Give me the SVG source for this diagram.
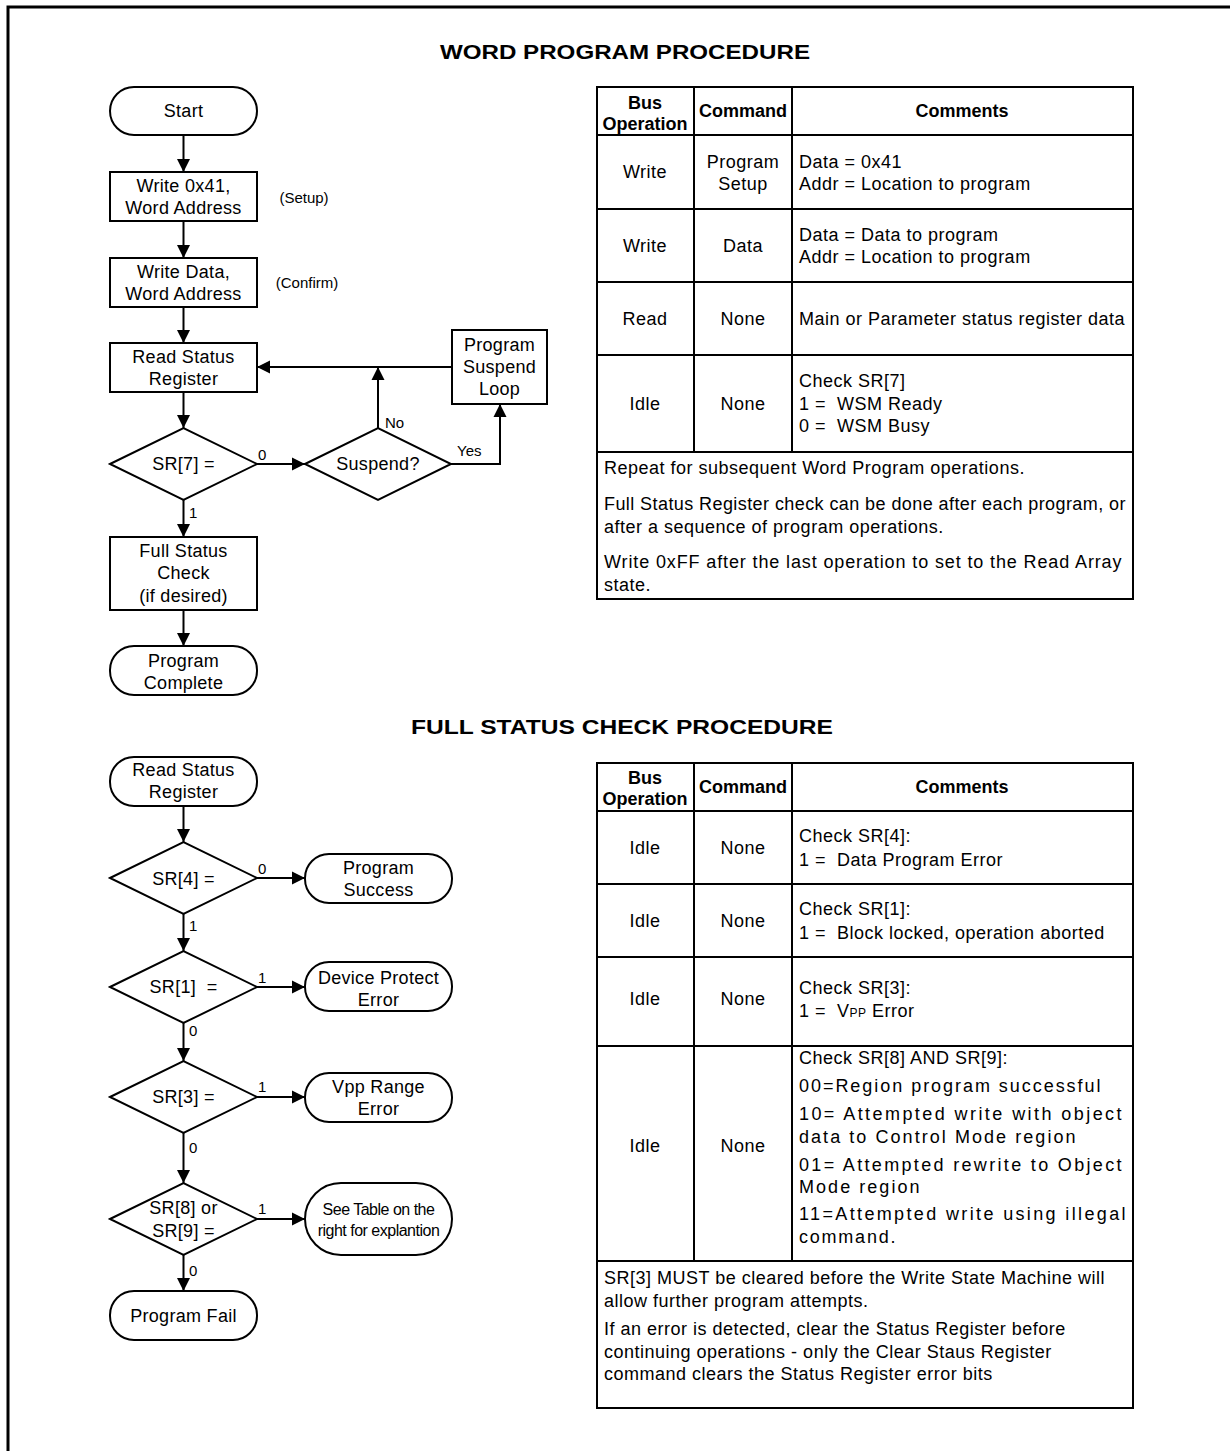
<svg xmlns="http://www.w3.org/2000/svg" width="1230" height="1451" viewBox="0 0 1230 1451">
<defs>
<marker id="arr" viewBox="0 0 10 10" refX="10" refY="5" markerWidth="13" markerHeight="14" markerUnits="userSpaceOnUse" orient="auto">
<path d="M0,0 L10,5 L0,10 z" fill="#000"/>
</marker>
<style>
text{font-family:"Liberation Sans",Arial,sans-serif;fill:#000}
.t{font-size:18px;text-anchor:middle;letter-spacing:0.3px}
.sm{font-size:15px;text-anchor:middle}
.lb{font-size:15px}
.h{font-size:21px;font-weight:bold;text-anchor:middle}
.th{font-size:18px;font-weight:bold;text-anchor:middle}
.tc{font-size:18px;text-anchor:middle;letter-spacing:0.5px}
.tl{font-size:18px;letter-spacing:0.5px}
.shape{fill:#fff;stroke:#000;stroke-width:2}
.line{fill:none;stroke:#000;stroke-width:2}
.tbl{fill:none;stroke:#000;stroke-width:2}
</style>
</defs>
<rect width="1230" height="1451" fill="#fff"/>
<path d="M8,1451 V7 H1230" fill="none" stroke="#000" stroke-width="3"/>

<text class="h" x="625" y="59" textLength="370" lengthAdjust="spacingAndGlyphs">WORD PROGRAM PROCEDURE</text>
<text class="h" x="622" y="734" textLength="422" lengthAdjust="spacingAndGlyphs">FULL STATUS CHECK PROCEDURE</text>

<!-- Word program flowchart -->
<g id="start"><rect class="shape" x="110" y="87" width="147" height="48" rx="24"/><text class="t" x="183.5" y="117">Start</text></g>
<g id="write41"><rect class="shape" x="110" y="172" width="147" height="49"/><text class="t" x="183.5" y="192">Write 0x41,</text><text class="t" x="183.5" y="214">Word Address</text></g>
<g id="setup-note"><text class="sm" x="304" y="203">(Setup)</text></g>
<g id="writedata"><rect class="shape" x="110" y="258" width="147" height="49"/><text class="t" x="183.5" y="278">Write Data,</text><text class="t" x="183.5" y="300">Word Address</text></g>
<g id="confirm-note"><text class="sm" x="307" y="288">(Confirm)</text></g>
<g id="readsr"><rect class="shape" x="110" y="343" width="147" height="49"/><text class="t" x="183.5" y="363">Read Status</text><text class="t" x="183.5" y="385">Register</text></g>
<g id="sr7"><polygon class="shape" points="110,464 183.5,428 257,464 183.5,500"/><text class="t" x="183.5" y="470">SR[7] =</text></g>
<g id="suspend"><polygon class="shape" points="305,464 378,428 451,464 378,500"/><text class="t" x="378" y="470">Suspend?</text></g>
<g id="suspendloop"><rect class="shape" x="452" y="330" width="95" height="74"/><text class="t" x="499.5" y="351">Program</text><text class="t" x="499.5" y="373">Suspend</text><text class="t" x="499.5" y="395">Loop</text></g>
<g id="fullcheck"><rect class="shape" x="110" y="537" width="147" height="73"/><text class="t" x="183.5" y="557">Full Status</text><text class="t" x="183.5" y="579">Check</text><text class="t" x="183.5" y="602">(if desired)</text></g>
<g id="complete"><rect class="shape" x="110" y="646" width="147" height="49" rx="24"/><text class="t" x="183.5" y="667">Program</text><text class="t" x="183.5" y="689">Complete</text></g>

<!-- Full status check flowchart -->
<g id="readsr2"><rect class="shape" x="110" y="757" width="147" height="49" rx="24"/><text class="t" x="183.5" y="776">Read Status</text><text class="t" x="183.5" y="798">Register</text></g>
<g id="sr4"><polygon class="shape" points="110,878 183.5,842 257,878 183.5,914"/><text class="t" x="183.5" y="885">SR[4] =</text></g>
<g id="success"><rect class="shape" x="305" y="854" width="147" height="49" rx="24"/><text class="t" x="378.5" y="874">Program</text><text class="t" x="378.5" y="896">Success</text></g>
<g id="sr1"><polygon class="shape" points="110,987 183.5,951 257,987 183.5,1023"/><text class="t" x="183.5" y="993" xml:space="preserve">SR[1]  =</text></g>
<g id="protect"><rect class="shape" x="305" y="962" width="147" height="49" rx="24"/><text class="t" x="378.5" y="984">Device Protect</text><text class="t" x="378.5" y="1006">Error</text></g>
<g id="sr3"><polygon class="shape" points="110,1097 183.5,1061 257,1097 183.5,1133"/><text class="t" x="183.5" y="1103">SR[3] =</text></g>
<g id="vpp"><rect class="shape" x="305" y="1073" width="147" height="49" rx="24"/><text class="t" x="378.5" y="1093">Vpp Range</text><text class="t" x="378.5" y="1115">Error</text></g>
<g id="sr89"><polygon class="shape" points="110,1219 183.5,1183 257,1219 183.5,1255"/><text class="t" x="183.5" y="1214">SR[8] or</text><text class="t" x="183.5" y="1237">SR[9] =</text></g>
<g id="seetable"><rect class="shape" x="305" y="1183" width="147" height="72" rx="36"/><text class="sm" x="378.5" y="1215" style="font-size:16px;letter-spacing:-0.5px">See Table on the</text><text class="sm" x="378.5" y="1236" style="font-size:16px;letter-spacing:-0.5px">right for explantion</text></g>
<g id="fail"><rect class="shape" x="110" y="1291" width="147" height="49" rx="24"/><text class="t" x="183.5" y="1322">Program Fail</text></g>

<g id="connectors">
<line class="line" x1="183.5" y1="135" x2="183.5" y2="172" marker-end="url(#arr)"/>
<line class="line" x1="183.5" y1="221" x2="183.5" y2="258" marker-end="url(#arr)"/>
<line class="line" x1="183.5" y1="307" x2="183.5" y2="343" marker-end="url(#arr)"/>
<line class="line" x1="183.5" y1="392" x2="183.5" y2="428" marker-end="url(#arr)"/>
<line class="line" x1="257" y1="464" x2="305" y2="464" marker-end="url(#arr)"/>
<line class="line" x1="378" y1="428" x2="378" y2="367" marker-end="url(#arr)"/>
<line class="line" x1="452" y1="367" x2="257" y2="367" marker-end="url(#arr)"/>
<polyline class="line" points="451,464 500,464 500,404" marker-end="url(#arr)"/>
<line class="line" x1="183.5" y1="500" x2="183.5" y2="537" marker-end="url(#arr)"/>
<line class="line" x1="183.5" y1="610" x2="183.5" y2="646" marker-end="url(#arr)"/>
<line class="line" x1="183.5" y1="806" x2="183.5" y2="842" marker-end="url(#arr)"/>
<line class="line" x1="257" y1="878" x2="305" y2="878" marker-end="url(#arr)"/>
<line class="line" x1="183.5" y1="914" x2="183.5" y2="951" marker-end="url(#arr)"/>
<line class="line" x1="257" y1="987" x2="305" y2="987" marker-end="url(#arr)"/>
<line class="line" x1="183.5" y1="1023" x2="183.5" y2="1061" marker-end="url(#arr)"/>
<line class="line" x1="257" y1="1097" x2="305" y2="1097" marker-end="url(#arr)"/>
<line class="line" x1="183.5" y1="1133" x2="183.5" y2="1183" marker-end="url(#arr)"/>
<line class="line" x1="257" y1="1219" x2="305" y2="1219" marker-end="url(#arr)"/>
<line class="line" x1="183.5" y1="1255" x2="183.5" y2="1291" marker-end="url(#arr)"/>
<text class="lb" x="258" y="460">0</text>
<text class="lb" x="385" y="428">No</text>
<text class="lb" x="457" y="456">Yes</text>
<text class="lb" x="189" y="518">1</text>
<text class="lb" x="258" y="874">0</text>
<text class="lb" x="189" y="931">1</text>
<text class="lb" x="258" y="983">1</text>
<text class="lb" x="189" y="1036">0</text>
<text class="lb" x="258" y="1092">1</text>
<text class="lb" x="189" y="1153">0</text>
<text class="lb" x="258" y="1214">1</text>
<text class="lb" x="189" y="1276">0</text>
</g>

<!-- Top table -->
<g id="table1">
<rect class="tbl" x="597" y="87" width="536" height="512"/>
<path class="tbl" d="M597,135 H1133 M597,209 H1133 M597,282 H1133 M597,355 H1133 M597,452 H1133 M694,87 V452 M792,87 V452"/>
<text class="th" x="645" y="109">Bus</text><text class="th" x="645" y="130">Operation</text>
<text class="th" x="743" y="117">Command</text>
<text class="th" x="962" y="117">Comments</text>
<text class="tc" x="645" y="178">Write</text>
<text class="tc" x="743" y="168">Program</text><text class="tc" x="743" y="190">Setup</text>
<text class="tl" x="799" y="168">Data = 0x41</text>
<text class="tl" x="799" y="190">Addr = Location to program</text>
<text class="tc" x="645" y="252">Write</text>
<text class="tc" x="743" y="252">Data</text>
<text class="tl" x="799" y="241">Data = Data to program</text>
<text class="tl" x="799" y="263">Addr = Location to program</text>
<text class="tc" x="645" y="325">Read</text>
<text class="tc" x="743" y="325">None</text>
<text class="tl" x="799" y="325">Main or Parameter status register data</text>
<text class="tc" x="645" y="410">Idle</text>
<text class="tc" x="743" y="410">None</text>
<text class="tl" x="799" y="387">Check SR[7]</text>
<text class="tl" x="799" y="410" xml:space="preserve">1 =  WSM Ready</text>
<text class="tl" x="799" y="432" xml:space="preserve">0 =  WSM Busy</text>
<text class="tl" x="604" y="474">Repeat for subsequent Word Program operations.</text>
<text class="tl" x="604" y="510" textLength="522">Full Status Register check can be done after each program, or</text>
<text class="tl" x="604" y="533">after a sequence of program operations.</text>
<text class="tl" x="604" y="568" textLength="518">Write 0xFF after the last operation to set to the Read Array</text>
<text class="tl" x="604" y="591">state.</text>
</g>

<!-- Bottom table -->
<g id="table2">
<rect class="tbl" x="597" y="763" width="536" height="645"/>
<path class="tbl" d="M597,811 H1133 M597,884 H1133 M597,957 H1133 M597,1046 H1133 M597,1261 H1133 M694,763 V1261 M792,763 V1261"/>
<text class="th" x="645" y="784">Bus</text><text class="th" x="645" y="805">Operation</text>
<text class="th" x="743" y="793">Command</text>
<text class="th" x="962" y="793">Comments</text>
<text class="tc" x="645" y="854">Idle</text><text class="tc" x="743" y="854">None</text>
<text class="tl" x="799" y="842">Check SR[4]:</text>
<text class="tl" x="799" y="866" xml:space="preserve">1 =  Data Program Error</text>
<text class="tc" x="645" y="927">Idle</text><text class="tc" x="743" y="927">None</text>
<text class="tl" x="799" y="915">Check SR[1]:</text>
<text class="tl" x="799" y="939" xml:space="preserve">1 =  Block locked, operation aborted</text>
<text class="tc" x="645" y="1005">Idle</text><text class="tc" x="743" y="1005">None</text>
<text class="tl" x="799" y="994">Check SR[3]:</text>
<text class="tl" x="799" y="1017" xml:space="preserve">1 =  V<tspan font-size="12">PP</tspan> Error</text>
<text class="tc" x="645" y="1152">Idle</text><text class="tc" x="743" y="1152">None</text>
<text class="tl" x="799" y="1064">Check SR[8] AND SR[9]:</text>
<text class="tl" x="799" y="1092" textLength="302">00=Region program successful</text>
<text class="tl" x="799" y="1120" textLength="323">10= Attempted write with object</text>
<text class="tl" x="799" y="1143" textLength="277">data to Control Mode region</text>
<text class="tl" x="799" y="1171" textLength="323">01= Attempted rewrite to Object</text>
<text class="tl" x="799" y="1193" textLength="121">Mode region</text>
<text class="tl" x="799" y="1220" textLength="327">11=Attempted write using illegal</text>
<text class="tl" x="799" y="1243" textLength="97">command.</text>
<text class="tl" x="604" y="1284">SR[3] MUST be cleared before the Write State Machine will</text>
<text class="tl" x="604" y="1307">allow further program attempts.</text>
<text class="tl" x="604" y="1335">If an error is detected, clear the Status Register before</text>
<text class="tl" x="604" y="1358">continuing operations - only the Clear Staus Register</text>
<text class="tl" x="604" y="1380">command clears the Status Register error bits</text>
</g>
</svg>
